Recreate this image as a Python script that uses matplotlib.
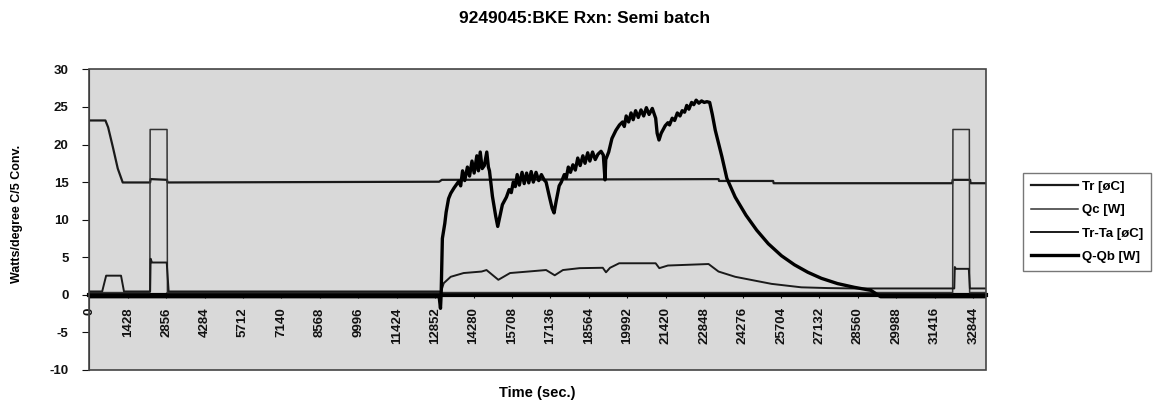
import matplotlib
matplotlib.use("Agg")
import matplotlib.pyplot as plt
from matplotlib.patches import Rectangle

plt.rcParams['font.family'] = ['Liberation Sans', 'DejaVu Sans']
plt.rcParams['font.weight'] = 'bold'

# ---- data ----
tr_t = [0, 600, 700, 874, 1059, 1243, 2262, 2280, 2890, 2904, 13000, 13100,
        23383, 23400, 25410, 25430, 32066, 32080, 32730, 32745, 33320]
tr_v = [23.2, 23.2, 22.3, 19.7, 16.8, 14.95, 14.95, 15.4, 15.3, 14.95, 15.05, 15.3,
        15.4, 15.15, 15.15, 14.85, 14.85, 15.3, 15.3, 14.85, 14.85]

qc_t = [0, 2250, 2262, 2890, 2904, 32080, 32090, 32700, 32710, 33320]
qc_v = [0.3, 0.3, 22.0, 22.0, 0.3, 0.3, 22.0, 22.0, 0.3, 0.3]

trta_t = [0, 480, 627, 1180, 1290, 2262, 2280, 2330, 2878, 2950, 13074, 13170,
          13430, 13910, 14580, 14760, 15200, 15635, 16310, 16975, 17295, 17600,
          18220, 19080, 19200, 19350, 19690, 21045, 21180, 21500, 23010, 23380,
          24000, 24860, 25350, 26457, 27440, 28425, 32140, 32160, 32200, 32680,
          32720, 33320]
trta_v = [0.45, 0.45, 2.55, 2.55, 0.45, 0.45, 4.8, 4.3, 4.3, 0.45, 0.45, 1.55,
          2.4, 2.9, 3.1, 3.3, 2.0, 2.9, 3.1, 3.3, 2.6, 3.3,
          3.55, 3.6, 3.0, 3.6, 4.2, 4.2, 3.55, 3.9, 4.1, 3.1,
          2.4, 1.8, 1.46, 1.0, 0.9, 0.85, 0.85, 3.7, 3.46, 3.46,
          0.85, 0.85]

qqb_t = [0, 13000, 13050, 13074, 13120, 13210, 13260, 13295, 13350, 13430, 13550,
         13727, 13800, 13870, 13950, 14050, 14130, 14220, 14300, 14400, 14460,
         14527, 14600, 14680, 14770, 14830, 14870, 14980, 15100, 15177, 15260,
         15350, 15500, 15600, 15680, 15755, 15830, 15900, 15980, 16080, 16160,
         16250, 16330, 16420, 16500, 16600, 16700, 16800, 16900, 16974, 17100,
         17200, 17270, 17350, 17460, 17540, 17650, 17720, 17800, 17880, 17970,
         18060, 18150, 18240, 18340, 18420, 18520, 18600, 18700, 18800, 18900,
         19015, 19100, 19163, 19190, 19300, 19420, 19570, 19700, 19815, 19880,
         19950, 20040, 20130, 20210, 20300, 20400, 20500, 20600, 20700, 20800,
         20920, 21045, 21100, 21169, 21250, 21400, 21500, 21560, 21660, 21750,
         21850, 21950, 22030, 22120, 22200, 22280, 22380, 22460, 22550, 22650,
         22750, 22850, 22950, 23052, 23150, 23260, 23505, 23690, 24000, 24400,
         24800, 25230, 25720, 26200, 26700, 27200, 27800, 28425, 29040, 29400,
         33320]
qqb_v = [-0.25, -0.25, -1.8, 0.0, 7.5, 9.5, 11.0, 11.7, 12.8, 13.5, 14.2,
         15.1, 14.5, 16.5, 15.2, 17.0, 15.8, 17.8, 16.2, 18.5, 16.5,
         19.0, 16.8, 17.2, 19.0, 17.0, 16.5, 13.1, 10.5, 9.1, 10.5,
         12.0, 13.0, 14.0, 13.6, 15.0, 14.4, 16.0, 14.6, 16.3, 14.8,
         16.2, 14.9, 16.4, 15.0, 16.3, 15.2, 16.0, 15.3, 15.0, 13.0,
         11.5, 10.9, 12.5, 14.5, 15.0, 16.0, 15.5, 17.0, 16.3, 17.3,
         16.6, 18.2, 17.2, 18.5, 17.5, 18.9, 17.8, 19.0, 18.0, 18.7,
         19.1, 18.6, 15.3, 18.0, 19.0, 20.8, 21.9, 22.6, 23.0, 22.4,
         23.8, 23.0, 24.2, 23.3, 24.5, 23.6, 24.6, 23.8, 24.9, 24.0,
         24.8, 23.5, 21.5, 20.6, 21.5, 22.5, 22.9, 22.6, 23.5, 23.2,
         24.2, 23.8, 24.5, 24.3, 25.2, 24.7, 25.6, 25.3, 25.9, 25.5,
         25.8, 25.6, 25.7, 25.6, 24.0, 21.9, 18.4, 15.5, 13.0, 10.6,
         8.6, 6.8, 5.2, 4.0, 3.0, 2.2, 1.5, 1.0, 0.6, -0.25,
         -0.25]

xtick_step = 1428
xtick_count = 24
yticks = [-10, -5, 0, 5, 10, 15, 20, 25, 30]

# ---- figure ----
fig = plt.figure(figsize=(11.73, 4.03), dpi=100)
ax = fig.add_axes([0.0761, 0.0819, 0.7645, 0.746])
ax.set_facecolor('#d9d9d9')

ax.plot(tr_t, tr_v, color='#1a1a1a', lw=1.6, label='Tr [øC]', zorder=3)
ax.plot(qc_t, qc_v, color='#333333', lw=1.1, label='Qc [W]', zorder=3)
ax.plot(trta_t, trta_v, color='#1a1a1a', lw=1.4, label='Tr-Ta [øC]', zorder=3)
ax.plot(qqb_t, qqb_v, color='black', lw=2.4, label='Q-Qb [W]', zorder=4)

ax.set_xlim(230, 33320)
ax.set_ylim(-10, 30)

# x axis crosses at y = 0, box drawn separately
for side in ('top', 'right'):
    ax.spines[side].set_visible(False)
ax.spines['bottom'].set_position(('data', 0))
ax.spines['bottom'].set_color('black')
ax.spines['bottom'].set_linewidth(3)
ax.spines['left'].set_color('#222222')
ax.add_patch(Rectangle((0, 0), 1, 1, transform=ax.transAxes, fill=False,
                       ec='#444444', lw=1.2, clip_on=False, zorder=5))

xt = [i * xtick_step for i in range(xtick_count)]
ax.set_xticks(xt)
ax.set_xticklabels([str(v) for v in xt], rotation=90, fontsize=9.5,
                   fontweight='bold', va='top')
ax.tick_params(axis='x', direction='inout', length=4, pad=7, colors='#111111')

ax.set_yticks(yticks)
ax.set_yticklabels([str(v) for v in yticks], fontsize=9.5, fontweight='bold')
ax.tick_params(axis='y', direction='out', length=5, pad=10, colors='#111111')

fig.text(0.498, 0.953, '9249045:BKE Rxn: Semi batch', ha='center', va='center',
         fontsize=12.5, fontweight='bold')
fig.text(0.458, 0.024, 'Time (sec.)', ha='center', va='center',
         fontsize=10.5, fontweight='bold')
fig.text(0.0145, 0.47, 'Watts/degree C/5 Conv.', rotation=90, ha='center',
         va='center', fontsize=9, fontweight='bold')

leg = ax.legend(loc='center left', bbox_to_anchor=(1.041, 0.493), frameon=True,
                fancybox=False, fontsize=9.5, handlelength=3.6,
                handletextpad=0.3, labelspacing=0.85, borderpad=0.6,
                borderaxespad=0)
leg.get_frame().set_edgecolor('#555555')
leg.get_frame().set_linewidth(1.0)

fig.savefig('out.png', dpi=100)
